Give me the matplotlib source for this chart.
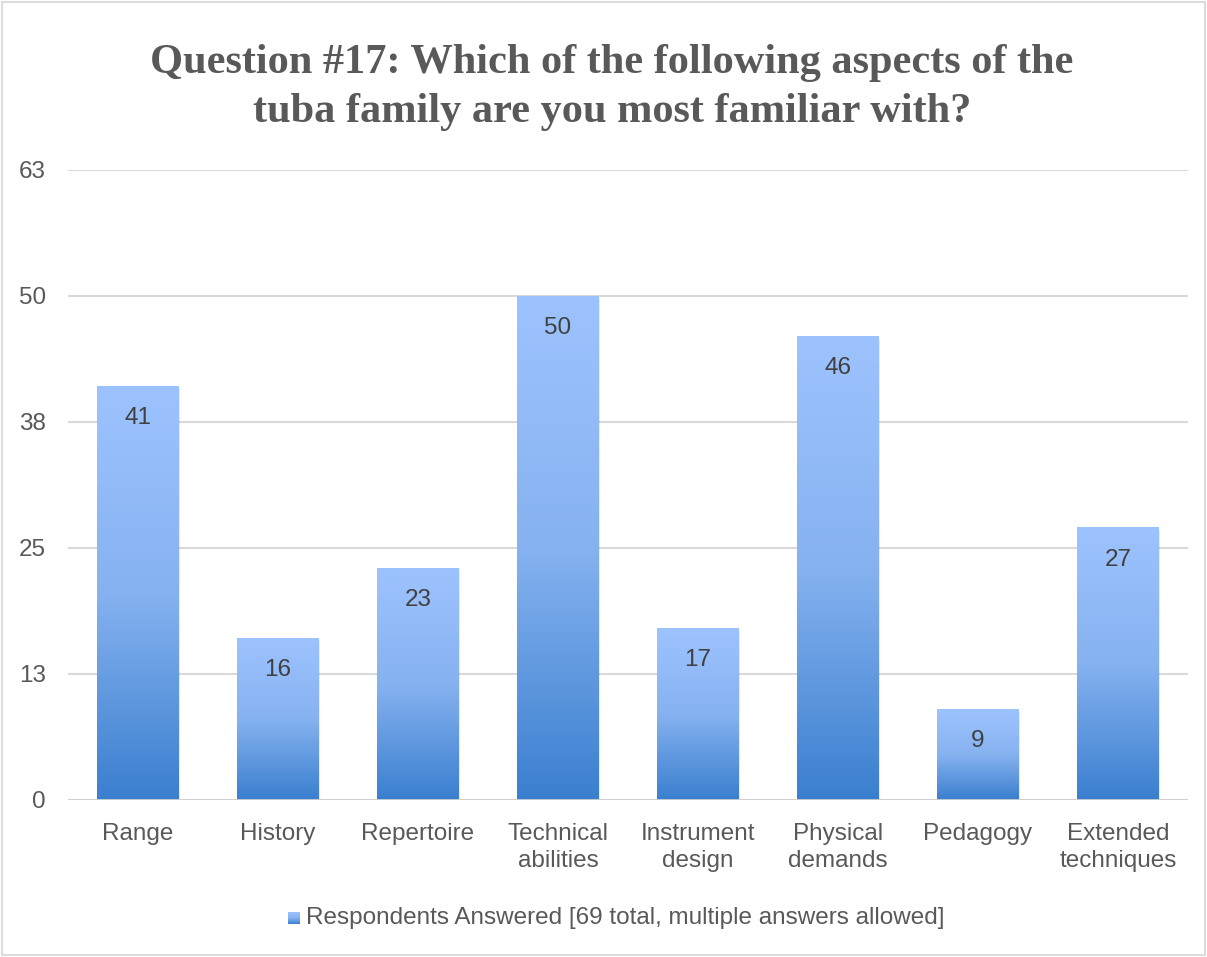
import numpy as np
import matplotlib
matplotlib.use("Agg")
import matplotlib.pyplot as plt
from matplotlib.colors import LinearSegmentedColormap
from matplotlib.patches import Rectangle

categories = ["Range", "History", "Repertoire", "Technical\nabilities",
              "Instrument\ndesign", "Physical\ndemands", "Pedagogy",
              "Extended\ntechniques"]
values = [41, 16, 23, 50, 17, 46, 9, 27]
y_max = 62.5
y_step = 12.5
series_label = "Respondents Answered [69 total, multiple answers allowed]"
title = "Question #17: Which of the following aspects of the\ntuba family are you most familiar with?"

text_gray = "#595959"
grid_gray = "#d9d9d9"
bar_top = "#9dc3fe"
bar_mid = "#86b2f0"
bar_bot = "#3a7fcf"
label_size = 17.5

plt.rcParams["font.family"] = ["Liberation Sans", "DejaVu Sans"]

fig = plt.figure(figsize=(12.07, 9.57), dpi=100)
fig.patch.set_facecolor("white")
# light outer frame
fig.patches.append(Rectangle((0.002, 0.002), 0.996, 0.996, transform=fig.transFigure,
                             fill=False, edgecolor="#dcdcdc", linewidth=1.5))

ax = fig.add_axes([68 / 1207, 1 - 800 / 957, 1120 / 1207, 630 / 957])
x = np.arange(len(categories))
bar_w = 0.58

cmap = LinearSegmentedColormap.from_list("bar", [bar_bot, bar_mid, bar_top])
grad = np.linspace(0, 1, 256).reshape(-1, 1)

ticks = np.arange(0, y_max + y_step / 2, y_step)
for t in ticks:
    ax.axhline(t, color=grid_gray, lw=1.5, zorder=0)

bars = ax.bar(x, values, width=bar_w, color="none", edgecolor="none", zorder=2)
for rect, v in zip(bars, values):
    x0 = rect.get_x()
    w = rect.get_width()
    # soft shadow
    ax.add_patch(Rectangle((x0 + 0.012, -0.25), w, v, facecolor="#000000",
                           alpha=0.08, edgecolor="none", zorder=1.5))
    ax.imshow(grad, cmap=cmap, extent=[x0, x0 + w, 0, v], origin="lower",
              aspect="auto", zorder=2, interpolation="bicubic")
    ax.text(rect.get_x() + w / 2, v - 3.15, f"{v}", ha="center", va="center",
            fontsize=label_size, color="#404040", zorder=3)

ax.set_xlim(-0.5, len(categories) - 0.5)
ax.set_ylim(0, y_max)
ax.set_yticks(ticks)
# round half up for the axis labels
ax.set_yticklabels([f"{int(np.floor(t + 0.5))}" for t in ticks])
ax.set_xticks(x)
ax.set_xticklabels(categories, linespacing=1.3)
ax.tick_params(axis="both", length=0, labelsize=label_size, labelcolor=text_gray)
ax.tick_params(axis="y", pad=16)
ax.tick_params(axis="x", pad=16.5)
for s in ax.spines.values():
    s.set_visible(False)
ax.axhline(0, color="#cfcfcf", lw=2, zorder=4)
ax.set_facecolor("none")

fig.text(0.507, 1 - 87.5 / 957, title, ha="center", va="center",
         fontsize=30.5, fontweight="bold", color=text_gray,
         family=["Liberation Serif", "DejaVu Serif"], linespacing=1.4)

# legend
lx = 294 / 1207
ly = 1 - 918 / 957
leg_ax = fig.add_axes([lx - 6 / 1207, ly - 6 / 957, 12 / 1207, 12 / 957])
leg_ax.imshow(grad, cmap=cmap, origin="lower", aspect="auto", extent=[0, 1, 0, 1])
leg_ax.axis("off")
fig.text(lx + 12 / 1207, ly, series_label, ha="left", va="center",
         fontsize=label_size, color=text_gray)

fig.savefig("out.png", dpi=100, facecolor="white")
